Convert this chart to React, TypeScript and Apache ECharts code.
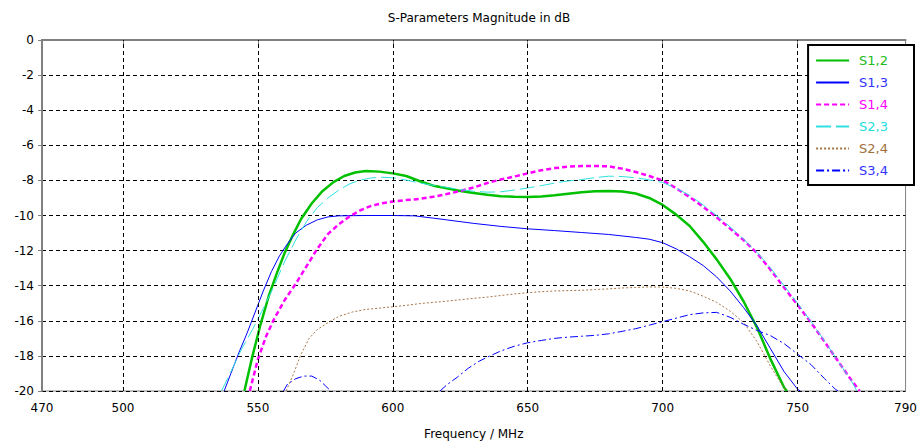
import React, { useEffect, useRef } from "react";
import * as echarts from "echarts";

// Frequency / dB pairs for each transmission coefficient
const s12: [number, number][] = [
  [545, -20], [548, -18], [551, -16.2], [554, -14.6], [557, -13.3], [560, -12.1], [563, -11.1],
  [566, -10.2], [570, -9.3], [574, -8.6], [578, -8.1], [582, -7.75], [586, -7.55], [590, -7.47],
  [595, -7.5], [600, -7.6], [605, -7.75], [610, -8.05], [615, -8.3], [620, -8.45], [625, -8.6],
  [630, -8.72], [635, -8.82], [640, -8.9], [645, -8.93], [650, -8.95], [655, -8.92], [660, -8.85],
  [665, -8.76], [670, -8.68], [675, -8.62], [680, -8.6], [685, -8.63], [690, -8.75], [695, -9.0],
  [700, -9.4], [705, -9.95], [710, -10.6], [715, -11.5], [720, -12.5], [725, -13.6], [730, -14.9],
  [735, -16.4], [740, -18.2], [745, -19.8], [746, -20],
];

const s13: [number, number][] = [
  [537.5, -20], [540, -19.0], [543, -17.8], [546, -16.7], [549, -15.5], [552, -14.3], [555, -13.2],
  [558, -12.3], [561, -11.6], [564, -11.0], [568, -10.55], [572, -10.25], [576, -10.08], [580, -10.02],
  [590, -10.0], [600, -10.0], [608, -10.02], [615, -10.15], [620, -10.25], [630, -10.45], [640, -10.62],
  [650, -10.76], [660, -10.86], [670, -10.97], [680, -11.08], [690, -11.25], [695, -11.35], [700, -11.55],
  [705, -11.9], [710, -12.35], [715, -12.85], [720, -13.5], [725, -14.3], [730, -15.25], [735, -16.3],
  [740, -17.6], [745, -18.9], [750, -19.9], [751, -20],
];

const s14: [number, number][] = [
  [547, -20], [550, -18.2], [553, -16.9], [556, -15.9], [560, -14.8], [564, -13.9], [568, -12.9],
  [572, -11.9], [576, -11.05], [580, -10.5], [584, -10.05], [588, -9.7], [592, -9.45], [596, -9.3],
  [600, -9.2], [605, -9.12], [610, -9.05], [615, -8.93], [620, -8.78], [625, -8.6], [630, -8.4],
  [635, -8.15], [640, -7.95], [645, -7.78], [650, -7.6], [655, -7.42], [660, -7.3], [665, -7.22],
  [670, -7.18], [675, -7.18], [680, -7.2], [685, -7.33], [690, -7.52], [695, -7.75], [700, -8.0],
  [705, -8.45], [710, -8.95], [715, -9.5], [720, -10.1], [725, -10.75], [730, -11.4], [735, -12.15],
  [740, -13.1], [745, -14.1], [750, -15.1], [755, -16.1], [760, -17.2], [765, -18.3], [770, -19.4],
  [773, -20],
];

const s23: [number, number][] = [
  [536.5, -20], [540, -18.9], [544, -17.6], [548, -16.5], [552, -15.3], [556, -14.0], [560, -12.6],
  [564, -11.4], [568, -10.35], [572, -9.55], [576, -9.0], [580, -8.55], [584, -8.2], [588, -7.98],
  [592, -7.86], [596, -7.82], [600, -7.85], [605, -7.98], [610, -8.15], [615, -8.28], [620, -8.4],
  [625, -8.52], [630, -8.62], [635, -8.67], [640, -8.65], [645, -8.55], [650, -8.43], [655, -8.3],
  [660, -8.15], [665, -8.03], [670, -7.95], [675, -7.84], [680, -7.76], [685, -7.78], [690, -7.85],
  [695, -7.97], [700, -8.12], [705, -8.45], [710, -8.85], [715, -9.4], [720, -10.0], [725, -10.65],
  [730, -11.35], [735, -12.1], [740, -13.0], [745, -14.0], [750, -15.0], [755, -16.05], [760, -17.15],
  [765, -18.3], [770, -19.45], [772, -20],
];

const s24: [number, number][] = [
  [560.5, -20], [563, -19.1], [566, -17.9], [569, -17.0], [572, -16.5], [576, -16.1], [580, -15.75],
  [585, -15.5], [590, -15.35], [595, -15.28], [600, -15.2], [605, -15.12], [610, -15.02], [615, -14.95],
  [620, -14.88], [625, -14.8], [630, -14.72], [635, -14.65], [640, -14.56], [645, -14.47], [650, -14.4],
  [655, -14.34], [660, -14.3], [665, -14.28], [670, -14.26], [675, -14.22], [680, -14.18], [685, -14.13],
  [690, -14.1], [695, -14.07], [700, -14.08], [705, -14.15], [710, -14.3], [715, -14.6], [720, -14.95],
  [725, -15.45], [730, -16.1], [735, -17.2], [740, -18.6], [744, -19.6], [746, -20],
];

// S3,4 leaves the plotted range in between, so it has two pieces
const s34: ([number, number] | [number, null])[] = [
  [559.5, -20], [561, -19.6], [564, -19.3], [567, -19.15], [570, -19.15], [573, -19.4], [575, -19.7],
  [577, -20], [597, null],
  [617.5, -20], [620, -19.65], [624, -19.2], [628, -18.7], [632, -18.3], [636, -18.0], [640, -17.72],
  [645, -17.45], [650, -17.25], [655, -17.12], [660, -17.0], [665, -16.93], [670, -16.88], [675, -16.83],
  [680, -16.74], [685, -16.6], [690, -16.45], [695, -16.25], [700, -16.05], [705, -15.85], [710, -15.65],
  [715, -15.55], [720, -15.52], [725, -15.8], [730, -16.2], [735, -16.55], [740, -16.85], [745, -17.3],
  [750, -17.9], [755, -18.5], [760, -19.3], [764, -19.9], [765, -20],
];

const freqTicks = [470, 500, 550, 600, 650, 700, 750, 790];
const freqGrid = [500, 550, 600, 650, 700, 750];

const FONT = "DejaVu Sans";

export default function App() {
  const ref = useRef<HTMLDivElement>(null);

  useEffect(() => {
    document.body.style.margin = "0";
    if (!ref.current) return;
    const chart = echarts.init(ref.current, undefined, { renderer: "svg" });

    const curve = (
      name: string,
      data: any[],
      color: string,
      width: number,
      type: any
    ) => ({
      name,
      type: "line",
      data,
      showSymbol: false,
      symbol: "none",
      connectNulls: false,
      z: 3,
      itemStyle: { color },
      lineStyle: { color, width, type },
    });

    const series = [
      {
        name: "grid",
        type: "line",
        data: [],
        z: 1,
        silent: true,
        markLine: {
          silent: true,
          symbol: ["none", "none"],
          label: { show: false },
          animation: false,
          lineStyle: { color: "#000", width: 1, type: [4, 3] },
          data: freqGrid.map((v) => ({ xAxis: v })),
        },
      },
      curve("S1,2", s12, "#00c000", 2.5, "solid"),
      curve("S1,3", s13, "#0000ff", 1, "solid"),
      curve("S1,4", s14, "#ff00ff", 2.5, [5, 3]),
      curve("S2,3", s23, "#30e0e0", 1, [15, 5]),
      curve("S2,4", s24, "#a87444", 1, [2, 2]),
      curve("S3,4", s34, "#0000ff", 1, [8, 3, 2, 3]),
    ];

    const legendColors: Record<string, string> = {
      "S1,2": "#22bb22",
      "S1,3": "#3333ff",
      "S1,4": "#ff00ff",
      "S2,3": "#22dddd",
      "S2,4": "#a0703c",
      "S3,4": "#3333ff",
    };

    chart.setOption({
      animation: false,
      backgroundColor: "#fff",
      title: {
        text: "S-Parameters Magnitude in dB",
        left: 474,
        textAlign: "center",
        top: 7,
        textStyle: { fontFamily: FONT, fontSize: 12, fontWeight: "normal", color: "#000" },
      },
      grid: {
        left: 42,
        right: 14,
        top: 40,
        bottom: 52,
        show: true,
        borderColor: "#808080",
        borderWidth: 1,
        backgroundColor: "transparent",
      },
      legend: {
        orient: "vertical",
        right: 6,
        top: 45,
        backgroundColor: "#fff",
        borderColor: "#000",
        borderWidth: 2,
        borderRadius: 0,
        padding: [9, 26, 8, 7],
        itemWidth: 33,
        itemHeight: 14,
        itemGap: 9,
        itemStyle: { opacity: 0 },
        textStyle: { fontFamily: FONT, fontSize: 13, padding: [0, 0, 0, 5] },
        data: Object.keys(legendColors).map((n) => ({
          name: n,
          textStyle: { color: legendColors[n] },
        })),
      },
      xAxis: {
        type: "value",
        min: 470,
        max: 790,
        interval: 10,
        name: "Frequency / MHz",
        nameLocation: "middle",
        nameGap: 37,
        nameTextStyle: { fontFamily: FONT, fontSize: 12, color: "#000" },
        axisLine: { show: true, lineStyle: { color: "#808080", width: 2 } },
        axisTick: {
          show: true,
          length: 4,
          customValues: freqTicks,
          lineStyle: { color: "#808080" },
        },
        axisLabel: {
          customValues: freqTicks,
          margin: 11,
          fontFamily: FONT,
          fontSize: 12,
          color: "#000",
        },
        splitLine: { show: false },
      },
      yAxis: {
        type: "value",
        min: -20,
        max: 0,
        interval: 2,
        axisLine: { show: true, lineStyle: { color: "#808080", width: 2 } },
        axisTick: { show: true, length: 4, lineStyle: { color: "#808080" } },
        axisLabel: { margin: 8, fontFamily: FONT, fontSize: 12, color: "#000" },
        splitLine: { show: true, lineStyle: { color: "#000", width: 1, type: [4, 3] } },
      },
      series,
    });

    return () => chart.dispose();
  }, []);

  return <div ref={ref} style={{ width: 920, height: 445 }} />;
}
